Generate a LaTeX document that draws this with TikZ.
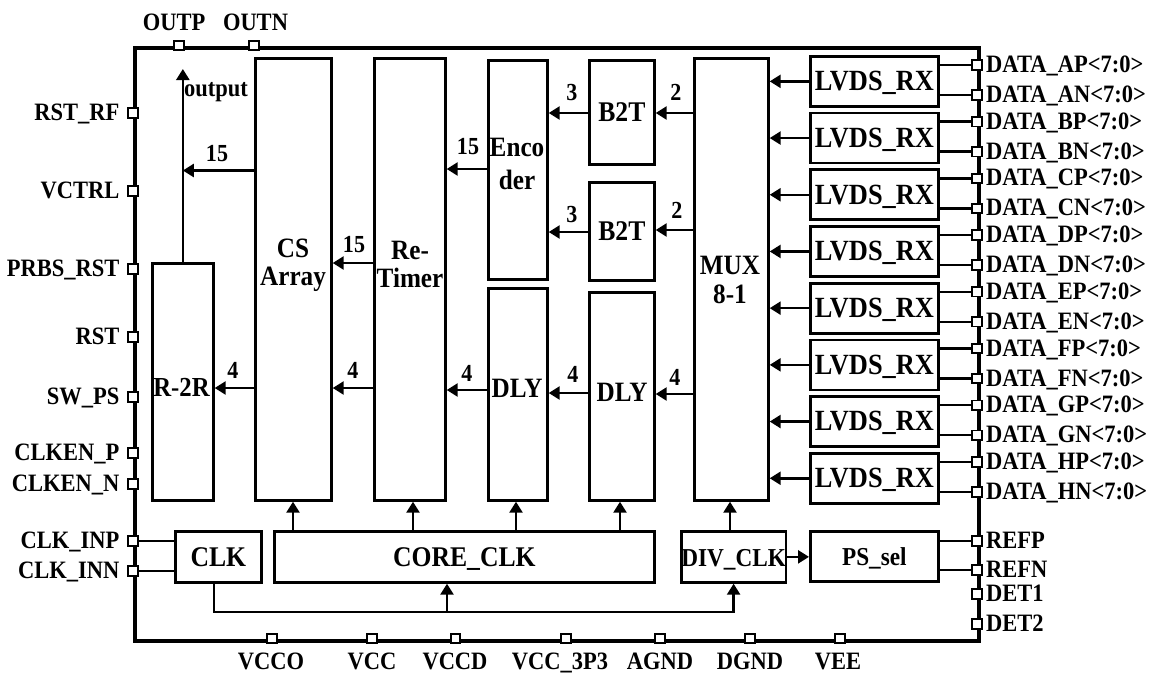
\documentclass[tikz,border=0pt]{standalone}
\usepackage{fontspec}
\setmainfont{Liberation Serif}[FakeStretch=0.9]
\usetikzlibrary{arrows.meta}
\tikzset{
  chipframe/.style={draw, line width=4pt, inner sep=0pt, anchor=north west},
  blk/.style={draw, line width=2.7pt, inner sep=0pt, anchor=north west, font=\fontsize{28.5}{30}\selectfont\bfseries, text height=18.5pt, text depth=0pt},
  btxt/.style={font=\fontsize{28}{28}\selectfont\bfseries, inner sep=0pt, align=center},
  pinsq/.style={draw, fill=white, line width=1.8pt, minimum size=9.5pt, inner sep=0pt},
  plbl/.style={font=\fontsize{25}{27}\selectfont\bfseries, inner sep=0pt},
  nlbl/.style={font=\fontsize{24.5}{26}\selectfont\bfseries, inner sep=0pt, anchor=base},
  wire/.style={line width=2.5pt},
  arr/.style={line width=2.5pt, -{Triangle[length=11pt,width=13pt]}},
}
\newcommand{\mkblk}[6]{\pgfmathsetmacro{\blkW}{#4-#2}\pgfmathsetmacro{\blkH}{#5-#3}%
  \node[blk, minimum width=\blkW pt, minimum height=\blkH pt] (#1) at (#2,#3) {#6};}
\begin{document}
\begin{tikzpicture}[x=1pt,y=-1pt]
\useasboundingbox (0,0) rectangle (1151,673);
% chip frame
\node[chipframe, minimum width=844pt, minimum height=593pt] (chip) at (133,45.5) {};

% blocks
\mkblk{r2r}{151}{262}{212}{499}{}
\mkblk{cs}{254}{57}{330}{499}{}
\mkblk{ret}{373}{57}{444}{499}{}
\mkblk{enc}{487}{59}{546}{278}{}
\mkblk{dlya}{487}{287}{546}{499}{}
\mkblk{btta}{588}{59}{653}{163}{B2T}
\mkblk{bttb}{588}{181}{653}{279}{B2T}
\mkblk{dlyb}{588}{291}{653}{499}{}
\mkblk{mux}{693}{57}{767}{499}{}
\mkblk{clk}{174}{530}{260}{581}{CLK}
\mkblk{core}{273}{530}{653}{581}{CORE\_CLK}
\mkblk{div}{680}{530}{783}{581}{{\fontsize{25.8}{28}\selectfont DIV\_CLK}}
\mkblk{pssel}{809}{530}{937}{580}{{\fontsize{25.8}{28}\selectfont PS\_sel}}

% block texts
\node[btxt] (tcs) at (293,264.8) {CS\\Array};
\node[btxt] (tret) at (410,264.8) {Re-\\Timer};
\node[btxt, font=\fontsize{28}{33}\selectfont\bfseries] (tenc) at (517,164) {Enco\\der};
\node[btxt, font=\fontsize{28}{29}\selectfont\bfseries] (tmux) at (730,280.3) {MUX\\8-1};
\node[btxt, anchor=base, font=\fontsize{27.5}{30}\selectfont\bfseries] (tr2r) at (181.5,396) {R-2R};
\node[btxt, anchor=base] (tdlya) at (517,397) {DLY};
\node[btxt, anchor=base] (tdlyb) at (622,401) {DLY};

% LVDS receivers and data pins
\foreach \i/\a in {0/A,1/B,2/C,3/D,4/E,5/F,6/G,7/H} {
  \pgfmathsetmacro{\ty}{55+56.7*\i}
  \node[blk, minimum width=128pt, minimum height=50pt, font=\fontsize{29.3}{30}\selectfont\bfseries] (lv\i) at (809,\ty) {LVDS\_RX};
  \node[pinsq] (dp\a) at (977,\ty+10) {};
  \node[pinsq] (dn\a) at (977,\ty+40) {};
  \draw[wire] (lv\i.east |- dp\a.west) -- (dp\a.west);
  \draw[wire] (lv\i.east |- dn\a.west) -- (dn\a.west);
  \draw[arr] (lv\i.west) -- (mux.east |- lv\i.west);
  \node[plbl, anchor=base west] at ([xshift=9pt,yshift=-7.5pt]dp\a.center) {DATA\_\a P<7:0>};
  \node[plbl, anchor=base west] at ([xshift=9pt,yshift=-7.5pt]dn\a.center) {DATA\_\a N<7:0>};
}

% data path arrows
\coordinate (otip) at (182,69);
\draw[arr] (r2r.north) -- (r2r.north |- otip);
\draw[arr] (cs.west |- 0,170.5) -- (r2r.north |- 0,170.5);
\draw[arr] (cs.west |- 0,388) -- (r2r.east |- 0,388);
\draw[arr] (ret.west |- 0,263) -- (cs.east |- 0,263);
\draw[arr] (ret.west |- 0,388) -- (cs.east |- 0,388);
\draw[arr] (enc.west |- 0,169) -- (ret.east |- 0,169);
\draw[arr] (dlya.west |- 0,390) -- (ret.east |- 0,390);
\draw[arr] (btta.west |- 0,113) -- (enc.east |- 0,113);
\draw[arr] (bttb.west |- 0,232) -- (enc.east |- 0,232);
\draw[arr] (mux.west |- 0,113) -- (btta.east |- 0,113);
\draw[arr] (mux.west |- 0,230) -- (bttb.east |- 0,230);
\draw[arr] (dlyb.west |- 0,393) -- (dlya.east |- 0,393);
\draw[arr] (mux.west |- 0,394) -- (dlyb.east |- 0,394);

% bus width labels
\node[plbl, anchor=base] (lout) at (216,96.5) {output};
\node[nlbl] (n1) at (217,161.5) {15};
\node[nlbl] (n2) at (354,252.5) {15};
\node[nlbl] (n3) at (233,378) {4};
\node[nlbl] (n4) at (353,378) {4};
\node[nlbl] (n5) at (468,154) {15};
\node[nlbl] (n6) at (467,381.5) {4};
\node[nlbl] (n7) at (572,100) {3};
\node[nlbl] (n8) at (572,222.5) {3};
\node[nlbl] (n9) at (676,100.5) {2};
\node[nlbl] (n10) at (677,218) {2};
\node[nlbl] (n11) at (573,382.5) {4};
\node[nlbl] (n12) at (675,385) {4};

% clock arrows
\draw[arr] (core.north -| 293,0) -- (cs.south -| 293,0);
\draw[arr] (core.north -| 413,0) -- (ret.south -| 413,0);
\draw[arr] (core.north -| 516,0) -- (dlya.south -| 516,0);
\draw[arr] (core.north -| 620,0) -- (dlyb.south -| 620,0);
\draw[arr] (div.north -| 730,0) -- (mux.south -| 730,0);
\draw[arr] (div.east) -- (pssel.west |- div.east);
\coordinate (cbr) at (447,612);
\draw[arr] (clk.south -| 214,0) -- (214,612) -- (div.south |- cbr) -- (div.south);
\draw[arr] (cbr) -- (core.south -| cbr);

% left pins
\foreach \nm/\yy/\tx in {rstrf/113/RST\_RF, vctrl/191/VCTRL, prbs/269/PRBS\_RST, rst/337/RST, swps/397/SW\_PS, clkenp/453/CLKEN\_P, clkenn/484/CLKEN\_N, clkinp/541/CLK\_INP, clkinn/571/CLK\_INN} {
  \node[pinsq] (p\nm) at (133,\yy) {};
  \node[plbl, anchor=base east] at ([xshift=-13.5pt,yshift=-7.5pt]p\nm.center) {\tx};
}
\draw[wire] (pclkinp.east) -- (clk.west |- pclkinp.east);
\draw[wire] (pclkinn.east) -- (clk.west |- pclkinn.east);

% right extra pins
\foreach \nm/\yy/\tx in {refp/541/REFP, refn/570/REFN, detone/594/DET1, dettwo/624/DET2} {
  \node[pinsq] (p\nm) at (977,\yy) {};
  \node[plbl, anchor=base west] at ([xshift=9pt,yshift=-7.5pt]p\nm.center) {\tx};
}
\draw[wire] (pssel.east |- prefp.west) -- (prefp.west);
\draw[wire] (pssel.east |- prefn.west) -- (prefn.west);

% bottom pins
\foreach \nm/\xx/\lx/\tx in {vcco/272/271/VCCO, vcc/372/372/VCC, vccd/455.5/455/VCCD, vcctp/566/560/VCC\_3P3, agnd/660/660/AGND, dgnd/750/750/DGND, vee/840/838/VEE} {
  \node[pinsq] (p\nm) at (\xx,638.5) {};
  \node[plbl, anchor=base] at (\lx,669) {\tx};
}

% top pins
\node[pinsq] (poutp) at (179,45.5) {};
\node[pinsq] (poutn) at (254,45.5) {};
\node[plbl, anchor=base] at (174,30) {OUTP};
\node[plbl, anchor=base] at (255.5,30) {OUTN};
\end{tikzpicture}
\end{document}
